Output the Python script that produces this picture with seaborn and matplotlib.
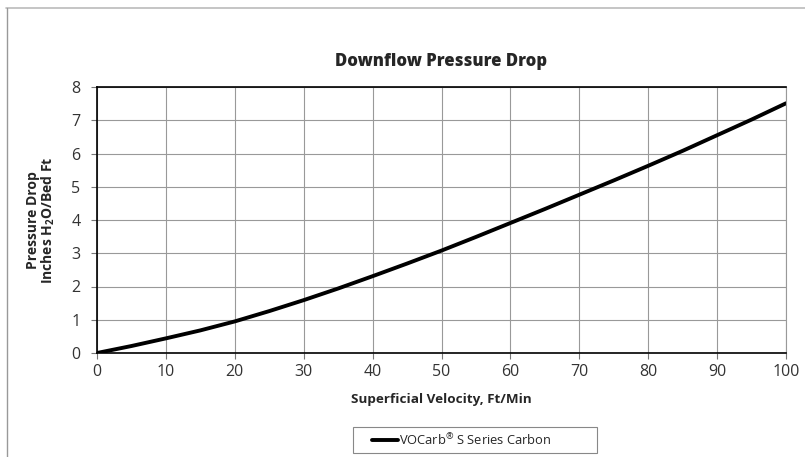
import seaborn as sns
import pandas as pd
import matplotlib.pyplot as plt
from matplotlib.lines import Line2D
from matplotlib.patches import Rectangle

# values
velocity = [0, 5, 10, 15, 20, 25, 30, 35, 40, 45, 50,
            55, 60, 65, 70, 75, 80, 85, 90, 95, 100]
pressure_drop = [0, 0.21, 0.44, 0.68, 0.95, 1.26, 1.59, 1.94, 2.31, 2.69, 3.08,
                 3.49, 3.91, 4.33, 4.76, 5.19, 5.63, 6.08, 6.55, 7.02, 7.51]
series_name = 'VOCarb$^{®}$ S Series Carbon'

df = pd.DataFrame({'Velocity': velocity, 'Pressure': pressure_drop, 'Series': series_name})

sns.set_style('white')
plt.rcParams['font.family'] = ['Open Sans', 'DejaVu Sans']
plt.rcParams['mathtext.fontset'] = 'custom'
plt.rcParams['mathtext.bf'] = 'Open Sans:bold'
plt.rcParams['mathtext.rm'] = 'Open Sans'
plt.rcParams['mathtext.default'] = 'regular'

W, H = 805, 457
fig = plt.figure(figsize=(W / 100, H / 100), dpi=100)
ax = fig.add_axes([97 / W, 1 - 353 / H, 689 / W, 266 / H])

sns.lineplot(x='Velocity', y='Pressure', data=df, hue='Series', palette=['black'],
             linewidth=2.8, ax=ax, legend=False)

ax.set_xlim(0, 100)
ax.set_ylim(0, 8)
ax.set_xticks(range(0, 101, 10))
ax.set_yticks(range(0, 9))
ax.grid(True, color='#999999', linewidth=0.8)
for side in ['left', 'bottom', 'top']:
    ax.spines[side].set_color('black')
    ax.spines[side].set_linewidth(1.2)
ax.spines['right'].set_color('#999999')
ax.spines['right'].set_linewidth(0.8)
ax.tick_params(axis='both', which='both', direction='out', length=4, width=0.8,
               color='#777777', labelsize=11.5, labelcolor='#333333',
               bottom=True, left=True)
ax.tick_params(axis='y', pad=8)
ax.tick_params(axis='x', pad=4)

ax.set_title('Downflow Pressure Drop', fontsize=12, fontweight=800, pad=15)
ax.set_xlabel('Superficial Velocity, Ft/Min', fontsize=9.7, fontweight='bold', labelpad=9)
ax.set_ylabel('Pressure Drop\nInches H$_\\mathbf{2}$O/Bed Ft', fontsize=10,
              fontweight='bold', labelpad=10, linespacing=1.0)

handle = Line2D([], [], color='black', linewidth=2.8)
fig.legend([handle], [series_name], loc='center left',
           bbox_to_anchor=(362 / W, 1 - 440 / H),
           frameon=False, fontsize=9.3, handlelength=2.0, handletextpad=0.1,
           borderpad=0.3)
fig.add_artist(Rectangle((353 / W, 1 - 453 / H), 244 / W, 26 / H,
                         transform=fig.transFigure, fill=False,
                         edgecolor='#888888', linewidth=0.8))

# thin outer frame as in the original
fig.add_artist(Line2D([6 / W, 1], [1 - 7.5 / H] * 2, transform=fig.transFigure,
                      color='#bbbbbb', linewidth=1.2))
fig.add_artist(Line2D([6.5 / W] * 2, [0, 1 - 7.5 / H], transform=fig.transFigure,
                      color='#999999', linewidth=1.0))

fig.savefig('out.png', dpi=100)
